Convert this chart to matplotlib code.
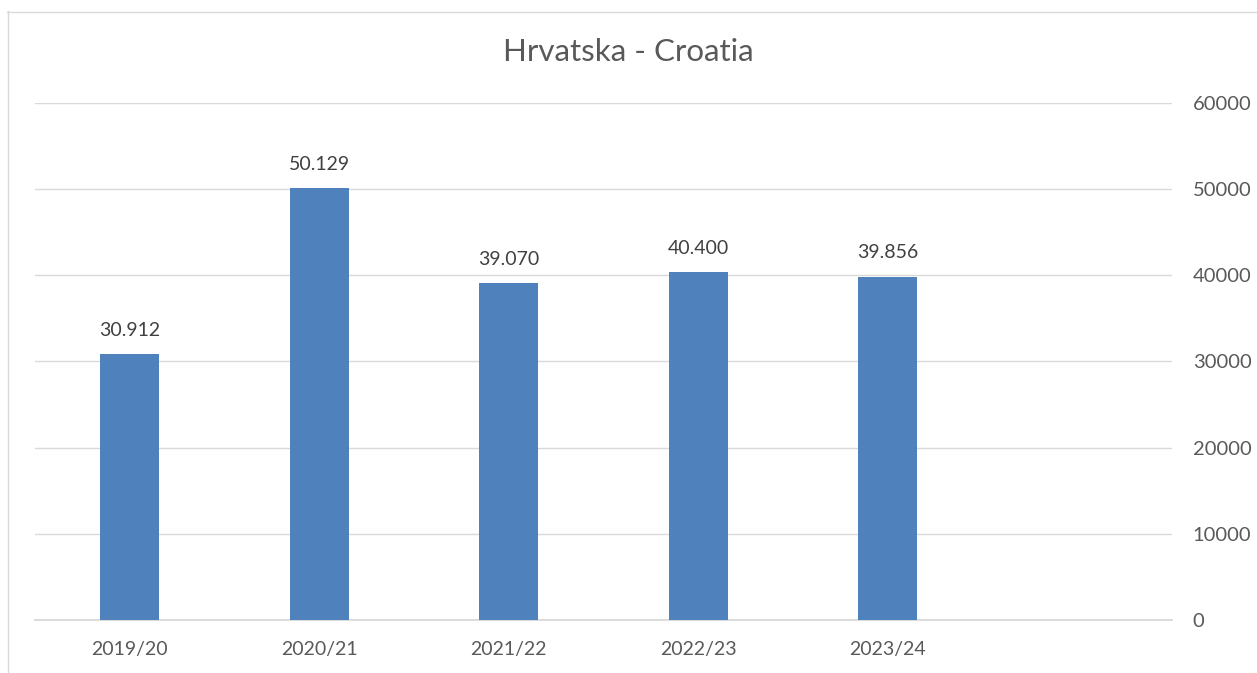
import matplotlib.pyplot as plt
from matplotlib.lines import Line2D

W = 1257
H = 673

seasons = ["2019/20", "2020/21", "2021/22", "2022/23", "2023/24", ""]
values = [30912, 50129, 39070, 40400, 39856]
value_labels = ["30.912", "50.129", "39.070", "40.400", "39.856"]
y_ticks = [0, 10000, 20000, 30000, 40000, 50000, 60000]

BAR_COLOR = "#4F81BD"
GRID_COLOR = "#D9D9D9"
TEXT_COLOR = "#595959"
LABEL_COLOR = "#404040"

plt.rcParams['font.family'] = ['Lato', 'DejaVu Sans']

fig = plt.figure(figsize=(W / 100, H / 100), dpi=100)
ax = fig.add_axes([35 / W, 1 - 620 / H, (1172 - 35) / W, (620 - 103) / H])

x = list(range(len(values)))
ax.bar(x, values, width=0.31, color=BAR_COLOR, zorder=3)

for xi, v, lab in zip(x, values, value_labels):
    ax.annotate(lab, (xi, v), xytext=(0, 17), textcoords="offset points",
                ha="center", va="center", fontsize=14, color=LABEL_COLOR)

ax.set_xlim(-0.5, len(seasons) - 0.5)
ax.set_xticks(range(len(seasons)))
ax.set_xticklabels(seasons)
ax.set_ylim(0, 60000)
ax.set_yticks(y_ticks)
ax.set_yticklabels([str(t) for t in y_ticks])
ax.yaxis.tick_right()
ax.tick_params(axis="y", length=0, pad=15, labelsize=14.5, labelcolor=TEXT_COLOR)
ax.tick_params(axis="x", length=0, pad=15, labelsize=14, labelcolor=TEXT_COLOR)

ax.grid(axis="y", color=GRID_COLOR, linewidth=1.0, zorder=0)
ax.axhline(0, color=GRID_COLOR, linewidth=1.3, zorder=2, clip_on=False)
for s in ax.spines.values():
    s.set_visible(False)

fig.text(0.5, 1 - 52 / H, "Hrvatska - Croatia", ha="center", va="center",
         fontsize=22.5, color=TEXT_COLOR)

# outer chart border (left and top edges visible)
fig.add_artist(Line2D([7.5 / W, 7.5 / W], [0, 1 - 11 / H], transform=fig.transFigure,
                      color=GRID_COLOR, linewidth=1.0))
fig.add_artist(Line2D([7 / W, 1], [1 - 11.5 / H, 1 - 11.5 / H], transform=fig.transFigure,
                      color=GRID_COLOR, linewidth=1.0))

fig.savefig("out.png", dpi=100)
